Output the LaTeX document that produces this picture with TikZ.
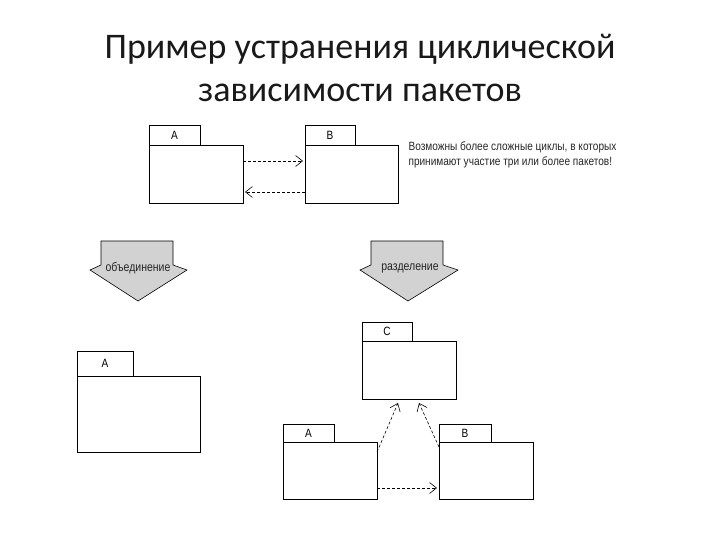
\documentclass[tikz,border=0pt]{standalone}
\usepackage{fontspec}
\setmainfont{Carlito}
\newfontfamily\narrowfont[FakeStretch=0.84]{Liberation Sans}
\usetikzlibrary{arrows.meta,calc}
\definecolor{arrowgray}{HTML}{D2D2D2}
\begin{document}
\begin{tikzpicture}[x=1pt,y=-1pt,
  pkgbody/.style={draw, line width=0.9pt, inner sep=0pt, outer sep=0pt, fill=white},
  pkgtab/.style={draw, line width=0.9pt, inner sep=0pt, outer sep=0pt, anchor=south west,
    minimum height=20pt, font=\narrowfont\fontsize{12}{13}\selectfont},
  dep/.style={line width=0.6pt, dash pattern=on 3pt off 2pt, -{Straight Barb[length=7pt,width=11pt,line width=0.6pt]}},
  blockarrow/.style={draw, line width=0.6pt, fill=arrowgray},
  smalltxt/.style={font=\narrowfont\fontsize{12}{14.5}\selectfont, text=black!85},
  armtxt/.style={font=\narrowfont\fontsize{12.5}{14}\selectfont, text=black!85},
  titletxt/.style={font=\fontsize{36}{40}\selectfont, text=black!90, anchor=base}
]
\useasboundingbox (0,0) rectangle (720,540);

% title
\node[titletxt] (t1) at (360,59) {Пример устранения циклической};
\node[titletxt] (t2) at (360,102) {зависимости пакетов};

% top packages
\node[pkgbody, minimum width=94pt, minimum height=58pt] (A1) at (196,174) {};
\node[pkgtab, minimum width=51pt] (A1t) at (A1.north west) {A};
\node[pkgbody, minimum width=93pt, minimum height=58pt] (B1) at (351.5,174) {};
\node[pkgtab, minimum width=50pt] (B1t) at (B1.north west) {B};
\draw[dep] ([yshift=13pt]A1.east) -- ([yshift=13pt,xshift=-2pt]B1.west);
\draw[dep] ([yshift=-18pt]B1.west) -- ([yshift=-18pt,xshift=2pt]A1.east);

\node[smalltxt, anchor=west, align=left] (note) at (405,155)
  {Возможны более сложные циклы, в которых\\принимают участие три или более пакетов!};

% block arrows
\draw[blockarrow] (101,241) -- (173,241) -- (173,265) -- (187,270) -- (138,301) -- (90,270) -- (101,265) -- cycle;
\node[armtxt] (m) at (138,268) {объединение};
\draw[blockarrow] (371,241) -- (443,241) -- (443,265) -- (458,270) -- (408,301) -- (360,270) -- (371,265) -- cycle;
\node[armtxt] (s) at (410,268) {разделение};

% bottom-left merged package
\node[pkgbody, minimum width=123pt, minimum height=76pt] (A2) at (138.5,414) {};
\node[pkgtab, minimum width=56pt, minimum height=25pt] (A2t) at (A2.north west) {A};

% bottom-right split packages
\node[pkgbody, minimum width=94pt, minimum height=58pt] (C3) at (409,370) {};
\node[pkgtab, minimum width=50pt, minimum height=19pt] (C3t) at (C3.north west) {C};
\node[pkgbody, minimum width=94pt, minimum height=57pt] (A3) at (330,470.5) {};
\node[pkgtab, minimum width=51pt, minimum height=18pt] (A3t) at (A3.north west) {A};
\node[pkgbody, minimum width=94pt, minimum height=57pt] (B3) at (486,470.5) {};
\node[pkgtab, minimum width=52pt, minimum height=18pt] (B3t) at (B3.north west) {B};

\draw[dep] ([yshift=-10pt]A3.north east) -- ([xshift=-11pt,yshift=-4pt]C3.south);
\draw[dep] ([yshift=-5pt]B3.north west) -- ([xshift=10pt,yshift=-4pt]C3.south);
\draw[dep] ([yshift=-17.5pt]A3.east) -- ([yshift=-17.5pt,xshift=-2pt]B3.west);
\end{tikzpicture}
\end{document}
